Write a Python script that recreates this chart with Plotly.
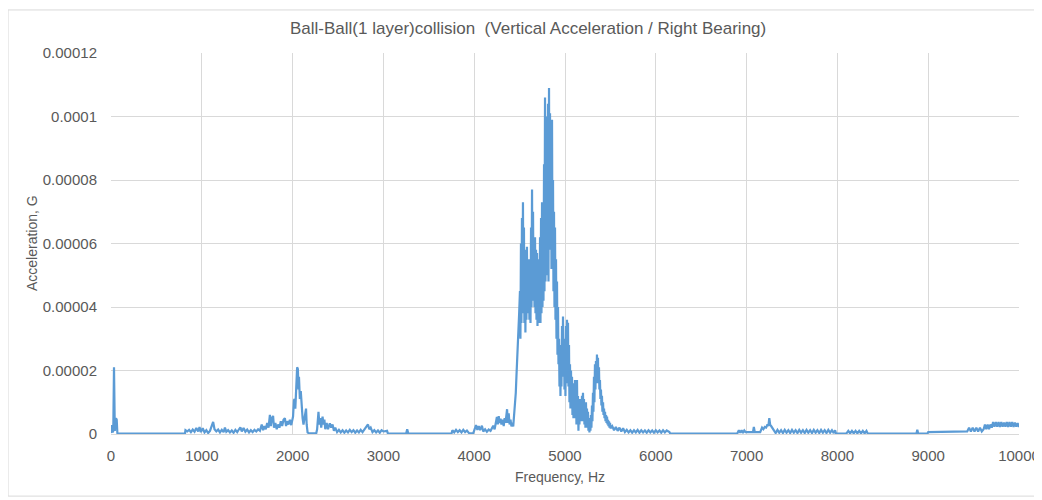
import plotly.graph_objects as go

# Frequency (Hz) and acceleration (micro-G)
freq_hz = [
    0, 8, 15, 25, 33, 42, 55, 63, 70, 90, 800,
    815, 820, 840, 860, 880, 900, 920, 940, 960, 975, 990, 1010, 1030, 1050, 1070, 1090,
    1110, 1125, 1140, 1160, 1180, 1200, 1220, 1240, 1255, 1270, 1290, 1310, 1330, 1350,
    1370, 1390, 1410, 1425, 1440, 1460, 1480, 1500, 1520, 1540, 1560, 1580, 1600, 1620,
    1640, 1660, 1675, 1690, 1705, 1720, 1735, 1750, 1760, 1772, 1785, 1795, 1810, 1825,
    1840, 1855, 1870, 1885, 1900, 1915, 1928, 1940, 1955, 1970, 1985, 1995, 2005, 2015,
    2023, 2030, 2040, 2050, 2058, 2065, 2070, 2080, 2090, 2100, 2110, 2120, 2135, 2148,
    2155, 2165, 2180, 2260, 2270, 2285, 2295, 2305, 2315, 2330, 2340, 2350, 2360, 2375,
    2390, 2410, 2425, 2440, 2455, 2470, 2490, 2510, 2530, 2550, 2570, 2590, 2610, 2630,
    2650, 2670, 2690, 2710, 2730, 2750, 2770, 2790, 2810, 2830, 2845, 2860, 2880, 2900,
    2920, 2940, 2960, 2980, 3000, 3040, 3050, 3250, 3262, 3275, 3750, 3760, 3780, 3800,
    3820, 3840, 3860, 3880, 3900, 3920, 3945, 3990, 4005, 4020, 4035, 4050, 4065, 4085,
    4100, 4120, 4140, 4160, 4180, 4195, 4210, 4225, 4240, 4250, 4260, 4270, 4280, 4290,
    4300, 4315, 4325, 4335, 4345, 4355, 4362, 4370, 4380, 4390, 4400, 4410, 4420, 4430,
    4440, 4450, 4458, 4465, 4472, 4480, 4488, 4495,
    4504, 4509, 4515, 4520, 4526, 4531, 4537, 4542, 4548, 4553, 4559, 4564, 4570, 4575,
    4581, 4586, 4592, 4597, 4603, 4608, 4615, 4620, 4626, 4631, 4637, 4642, 4648, 4653,
    4659, 4664, 4670, 4675, 4681, 4686, 4692, 4697, 4703, 4708, 4714, 4719, 4725, 4730,
    4736, 4741, 4747, 4752, 4758, 4763, 4769, 4774, 4780, 4785, 4791, 4796, 4802, 4807,
    4813, 4818, 4824, 4829, 4835, 4840, 4846, 4851, 4857, 4862, 4868, 4873, 4879, 4884,
    4890, 4895, 4901, 4906, 4912, 4917, 4923, 4928, 4934, 4939, 4945, 4950, 4956, 4961,
    4967, 4972, 4978, 4983, 4989, 4994, 5000, 5005, 5011, 5016, 5022, 5027, 5033, 5038,
    5044, 5049, 5055, 5060, 5066, 5071, 5077, 5082, 5088, 5093, 5099, 5104, 5110, 5115,
    5121, 5126, 5132, 5137, 5143, 5148, 5154, 5159, 5165, 5170, 5176, 5181, 5187, 5192,
    5198, 5203, 5209, 5214, 5220, 5225, 5231, 5236, 5242, 5247, 5253, 5258, 5264, 5269,
    5275, 5280, 5286, 5291, 5297, 5302, 5308, 5313, 5319, 5324, 5330, 5335, 5341, 5346,
    5352, 5357, 5363, 5368, 5374, 5379, 5385, 5390, 5396, 5401, 5407, 5412, 5419, 5424,
    5430, 5435, 5441, 5446, 5452, 5457, 5463, 5468, 5474, 5479, 5485, 5490, 5496, 5501,
    5520, 5540, 5560, 5580, 5600, 5620, 5640, 5660, 5680, 5700, 5720, 5740, 5760, 5780,
    5800, 5820, 5840, 5860, 5880, 5900, 5920, 5940, 5960, 5980, 6000, 6020, 6040, 6060,
    6080, 6100, 6120, 6150, 6160, 6890,
    6900, 6915, 6930, 6945, 6960, 6975, 6990, 7010, 7040, 7070, 7080, 7090, 7120, 7150,
    7170, 7185, 7200, 7215, 7230, 7240, 7250, 7260, 7270, 7285, 7300,
    7320, 7340, 7360, 7380, 7400, 7420, 7440, 7460, 7480, 7500, 7520, 7540, 7560, 7580,
    7600, 7620, 7640, 7660, 7680, 7700, 7720, 7740, 7760, 7780, 7800, 7820, 7840, 7860,
    7880, 7900, 7920, 7940, 7960, 7975, 7985, 8090,
    8100, 8120, 8140, 8160, 8180, 8200, 8220, 8240, 8260, 8280, 8300, 8320, 8335, 8870,
    8880, 8890, 8990, 9000, 9420,
    9430, 9450, 9470, 9490, 9510, 9530, 9550, 9570, 9590, 9610, 9625, 9640, 9655, 9670,
    9685, 9700, 9715, 9730, 9745, 9760, 9775, 9790, 9805, 9820, 9835, 9850, 9865, 9880,
    9895, 9910, 9925, 9940, 9955, 9970, 9985, 10000,
]

accel_ug = [
    0.3, 2.8, 0.5, 1.0, 21.0, 1.0, 5.0, 4.5, 0.3, 0.1, 0.1,
    0.2, 1.2, 0.8, 1.3, 0.6, 1.4, 0.7, 1.9, 0.8, 2.2, 0.6, 1.8, 0.5, 1.2, 0.3, 1.0,
    2.5, 3.8, 1.5, 0.8, 1.4, 0.5, 1.3, 0.6, 2.0, 0.7, 1.2, 0.5, 1.1, 0.4,
    1.3, 0.6, 1.5, 2.1, 0.8, 1.9, 0.7, 1.4, 0.5, 1.2, 0.6, 1.3, 0.8, 1.5,
    1.0, 3.0, 1.2, 2.5, 1.5, 3.5, 2.0, 6.0, 2.5, 5.0, 5.7, 2.0, 3.5, 1.5,
    3.0, 2.0, 4.0, 2.5, 4.5, 5.0, 2.5, 4.0, 3.0, 4.5, 2.8, 4.7, 5.5, 10.7,
    11.0, 8.0, 15.0, 21.0, 20.5, 14.0, 18.0, 11.0, 13.5, 8.0, 5.0, 3.0, 6.0, 8.0,
    3.0, 0.5, 0.2, 0.2, 1.5, 7.0, 3.0, 5.0, 2.0, 5.5, 3.0, 4.5, 1.5, 3.5,
    1.5, 3.4, 2.0, 3.0, 1.0, 2.0, 0.6, 1.3, 0.5, 1.2, 0.4, 1.1, 0.5, 1.3,
    0.6, 1.2, 0.4, 1.1, 0.5, 1.3, 0.6, 1.5, 2.2, 3.0, 1.5, 2.0, 0.6, 1.2,
    0.5, 1.1, 0.4, 1.2, 0.8, 1.0, 0.1, 0.1, 1.5, 0.1, 0.1, 1.2, 0.5, 1.3,
    0.6, 1.2, 0.5, 1.3, 0.6, 1.1, 0.2, 0.3, 1.5, 2.8, 1.3, 2.5, 1.2, 2.6,
    0.8, 1.5, 0.7, 1.4, 1.0, 2.0, 2.6, 1.5, 4.0, 5.4, 3.0, 5.6, 3.5, 4.8,
    3.0, 4.5, 2.5, 5.0, 3.5, 7.0, 7.8, 3.5, 6.5, 3.0, 4.5, 2.4, 3.5, 2.4,
    6.0, 9.0, 13.0, 18.0, 22.0, 26.0, 33.0, 38.0,
    45, 30, 60, 35, 68, 38, 73, 40, 65, 35, 55, 32, 58, 36,
    59, 40, 52, 38, 55, 36, 50, 35, 65, 40, 77, 42, 70, 45,
    60, 40, 62, 38, 58, 36, 57, 34, 52, 37, 55, 35, 62, 35,
    68, 38, 73, 40, 70, 42, 85, 45, 106, 48, 95, 50, 100, 55,
    104, 48, 109, 58, 101, 60, 95, 52, 99, 55, 80, 45, 70, 40,
    65, 36, 55, 30, 48, 25, 40, 22, 30, 15, 25, 12, 28, 15,
    34, 18, 37, 20, 30, 14, 28, 12, 34, 16, 36, 18, 35, 15,
    28, 10, 22, 8, 20, 10, 18, 6, 16, 5, 15, 6, 17, 5,
    16, 3, 17, 5, 12, 1, 10, 3, 11, 4, 10, 5, 12, 4,
    13, 6, 11, 3, 9, 2, 10, 3, 8, 2, 7, 1, 5, 0.5,
    4, 1, 6, 2, 9, 4, 13, 7, 18, 10, 22, 14, 23, 16,
    25, 17, 24, 16, 21, 14, 17, 11, 14, 9, 12, 7, 10, 6,
    8, 5, 7, 4, 6, 3.5, 5.5, 3, 4.5, 2.5, 4, 2, 3.5, 1.8,
    2.5, 1.2, 2.2, 1.0, 2.0, 0.8, 1.8, 0.6, 1.3, 0.5, 1.2, 0.4, 1.2, 0.5,
    1.3, 0.4, 1.2, 0.5, 1.1, 0.4, 1.2, 0.5, 1.1, 0.4, 1.2, 0.5, 1.1, 0.4,
    1.2, 0.5, 1.1, 0.6, 0.1, 0.1,
    0.3, 1.2, 0.4, 1.2, 0.3, 1.1, 0.6, 0.6, 0.6, 0.6, 2.2, 0.6, 0.6, 0.6,
    2.0, 1.5, 2.2, 2.0, 3.0, 2.5, 5.0, 2.8, 2.5, 1.8, 1.5,
    0.3, 1.3, 0.4, 1.2, 0.3, 1.3, 0.4, 1.2, 0.3, 1.3, 0.4, 1.2, 0.3, 1.3,
    0.4, 1.2, 0.3, 1.3, 0.4, 1.2, 0.3, 1.3, 0.4, 1.2, 0.3, 1.3, 0.4, 1.2,
    0.3, 1.3, 0.4, 1.2, 0.3, 1.2, 0.1, 0.1,
    0.2, 1.0, 0.2, 1.0, 0.2, 1.0, 0.2, 1.0, 0.2, 1.0, 0.2, 1.0, 0.1, 0.1,
    1.3, 0.1, 0.1, 0.6, 0.6,
    0.8, 2.0, 0.8, 2.0, 0.8, 2.0, 0.8, 2.0, 0.8, 1.5, 3.0, 1.5, 3.0, 1.5,
    3.0, 2.0, 3.8, 2.3, 3.8, 2.3, 3.8, 2.2, 3.8, 2.3, 3.6, 2.3, 3.8, 2.2,
    3.8, 2.3, 3.8, 2.2, 3.6, 2.3, 3.4, 2.2,
]

accel_g = [v * 1e-6 for v in accel_ug]

y_tick_vals = [0, 0.00002, 0.00004, 0.00006, 0.00008, 0.0001, 0.00012]
y_tick_text = ["0", "0.00002", "0.00004", "0.00006", "0.00008", "0.0001", "0.00012"]
x_tick_vals = [0, 1000, 2000, 3000, 4000, 5000, 6000, 7000, 8000, 9000, 10000]
x_tick_text = ["0", "1000", "2000", "3000", "4000", "5000", "6000", "7000", "8000", "9000", "10000"]

FONT = "Liberation Sans, Arial, sans-serif"
GREY = "#595959"

# The page body adds an 8 px offset; the figure is sized so the plot lands where the reference has it.
W, H = 1034, 492
ML, MR, MT, MB = 103, 23, 45, 66

fig = go.Figure()
fig.add_trace(go.Scatter(
    x=freq_hz, y=accel_g, mode="lines",
    line=dict(color="#5B9BD5", width=2.2),
    hoverinfo="x+y", showlegend=False,
))

fig.update_layout(
    width=W, height=H,
    margin=dict(l=ML, r=MR, t=MT, b=MB, autoexpand=False),
    paper_bgcolor="white", plot_bgcolor="white",
    font=dict(family=FONT, color=GREY, size=14),
    title=dict(
        text="Ball-Ball(1 layer)collision  (Vertical Acceleration / Right Bearing)",
        x=0.503, xref="container", xanchor="center",
        y=0.959, yref="container", yanchor="middle",
        font=dict(family=FONT, size=17, color=GREY),
    ),
    xaxis=dict(
        range=[0, 10000], tickvals=x_tick_vals, ticktext=x_tick_text,
        showgrid=True, gridcolor="#d9d9d9", gridwidth=1,
        zeroline=False, showline=True, linecolor="#d9d9d9",
        ticks="", tickfont=dict(size=15, color=GREY), ticklabelstandoff=8,
        automargin=False,
    ),
    yaxis=dict(
        range=[0, 0.00012], tickvals=y_tick_vals, ticktext=y_tick_text,
        showgrid=True, gridcolor="#d9d9d9", gridwidth=1,
        zeroline=False, showline=False,
        ticks="", tickfont=dict(size=15, color=GREY), ticklabelstandoff=13,
        automargin=False,
    ),
    annotations=[
        dict(text="Frequency, Hz", xref="paper", yref="paper", x=0.4945, y=-0.113,
             xanchor="center", yanchor="middle", showarrow=False,
             font=dict(size=14, color=GREY)),
        dict(text="Acceleration, G", xref="paper", yref="paper", x=-0.0875, y=0.5,
             xanchor="center", yanchor="middle", showarrow=False, textangle=-90,
             font=dict(size=14, color=GREY)),
    ],
)

# thin light chart-area border like the spreadsheet chart frame
fig.add_shape(type="rect", xref="paper", yref="paper",
              x0=-0.1134, x1=1.0176, y0=-0.163, y1=1.113,
              line=dict(color="#d9d9d9", width=1), fillcolor="rgba(0,0,0,0)", layer="below")

fig.write_html("out.html")
